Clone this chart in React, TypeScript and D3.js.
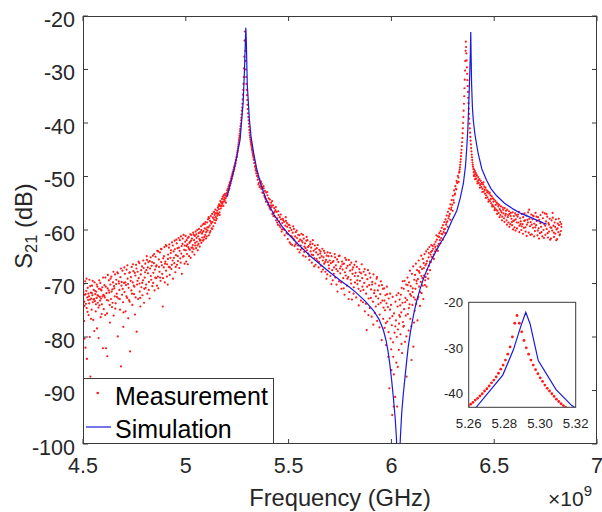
import React from 'react';
import * as d3 from 'd3';

// ---------- axis ticks ----------
const xTicks = [4.5, 5, 5.5, 6, 6.5, 7];
const xTickLabels = ['4.5', '5', '5.5', '6', '6.5', '7'];
const yTicks = [-100, -90, -80, -70, -60, -50, -40, -30, -20];
const insetXTicks = [5.26, 5.28, 5.3, 5.32];
const insetXTickLabels = ['5.26', '5.28', '5.30', '5.32'];
const insetYTicks = [-40, -30, -20];

// ---------- measurement [GHz, dB] ----------
const measLow: number[][] = [
[4.501,-72.9],[4.503,-70.1],[4.505,-77.0],[4.506,-73.4],[4.508,-80.3],[4.509,-72.1],[4.511,-69.6],[4.512,-82.0],[4.514,-73.8],[4.516,-71.4],[4.518,-74.6],[4.519,-84.1],[4.521,-72.6],[4.523,-70.8],[4.525,-73.1],[4.527,-75.9],[4.529,-72.4],[4.531,-69.3],[4.533,-80.0],[4.534,-73.0],[4.536,-87.4],[4.538,-71.7],[4.540,-72.8],[4.542,-74.9],[4.544,-70.4],[4.546,-72.2],[4.548,-73.5],[4.550,-76.8],[4.552,-71.2],[4.554,-72.9],[4.556,-69.8],[4.558,-73.3],[4.560,-72.0],[4.562,-75.2],[4.564,-71.5],[4.566,-72.7],[4.568,-78.4],[4.570,-70.6],[4.572,-73.6],[4.574,-72.3],[4.576,-80.2],[4.578,-71.0],[4.580,-74.1],[4.582,-72.5],[4.584,-69.9],[4.586,-76.3],[4.588,-72.8],[4.590,-71.3],[4.592,-73.9],[4.594,-70.7],[4.597,-82.1],[4.599,-72.1],
[4.601,-74.8],[4.604,-70.3],[4.606,-72.6],[4.609,-68.9],[4.612,-82.1],[4.614,-71.8],[4.617,-75.6],[4.618,-83.6],[4.620,-70.9],[4.623,-73.2],[4.626,-69.4],[4.628,-71.7],[4.631,-77.3],[4.633,-70.2],[4.636,-72.9],[4.638,-68.7],[4.641,-74.4],[4.643,-71.1],[4.646,-69.8],[4.649,-76.0],[4.651,-70.5],[4.654,-72.4],[4.656,-68.3],[4.659,-73.7],[4.661,-70.1],[4.664,-71.9],[4.667,-67.9],[4.669,-79.9],[4.672,-72.8],[4.674,-69.6],[4.677,-71.2],[4.680,-74.9],[4.682,-68.8],[4.685,-85.5],[4.687,-70.4],[4.690,-72.1],[4.692,-67.6],[4.695,-73.5],[4.696,-78.1],[4.699,-69.9],[4.702,-71.6],[4.704,-68.2],[4.707,-75.2],[4.709,-70.3],[4.712,-67.4],[4.715,-72.7],[4.717,-69.1],[4.720,-76.5],[4.722,-70.8],[4.725,-68.0],[4.727,-73.4],[4.729,-82.7],[4.732,-69.5],[4.735,-71.3],[4.737,-66.9],[4.740,-74.0],[4.742,-69.8],[4.745,-67.7],[4.748,-72.0],[4.750,-70.6],[4.753,-75.8],[4.755,-68.5],[4.758,-66.5],[4.761,-79.0],[4.763,-70.2],[4.766,-67.8],[4.768,-72.9],[4.771,-69.0],[4.774,-66.2],[4.776,-71.5],[4.779,-74.3],[4.781,-68.3],[4.784,-70.7],[4.787,-66.8],[4.789,-72.2],[4.792,-69.4],[4.795,-67.1],[4.797,-73.6],
[4.800,-68.9],[4.803,-66.3],[4.805,-70.8],[4.808,-67.5],[4.811,-65.6],[4.813,-71.9],[4.816,-68.1],[4.818,-66.0],[4.821,-69.7],[4.824,-72.8],[4.826,-67.2],[4.829,-65.1],[4.832,-69.3],[4.834,-66.7],[4.837,-70.5],[4.840,-64.8],[4.842,-68.0],[4.845,-66.2],[4.848,-71.3],[4.850,-67.4],[4.853,-65.0],[4.856,-69.0],[4.858,-66.6],[4.861,-63.9],[4.864,-68.7],[4.866,-70.9],[4.869,-65.5],[4.872,-67.8],[4.874,-64.2],[4.877,-69.5],[4.880,-66.0],[4.882,-63.6],[4.885,-68.2],[4.888,-74.3],[4.890,-65.3],[4.893,-67.0],[4.896,-63.2],[4.898,-69.8],[4.901,-65.9],[4.904,-67.6],[4.906,-63.0],[4.909,-66.4],[4.912,-70.2],[4.914,-64.6],[4.917,-66.9],[4.920,-62.7],[4.922,-68.4],[4.925,-65.2],[4.928,-63.8],[4.930,-67.3],[4.933,-62.3],[4.936,-65.7],[4.938,-69.1],[4.941,-64.0],[4.944,-66.2],[4.946,-62.0],[4.949,-67.9],[4.952,-64.7],[4.954,-61.8],[4.957,-66.5],[4.960,-63.4],[4.962,-65.8],[4.965,-61.5],[4.968,-67.1],[4.970,-63.9],[4.973,-65.3],[4.976,-61.2],[4.978,-64.4],[4.981,-68.2],[4.984,-62.6],[4.986,-65.0],[4.989,-60.9],[4.992,-63.7],[4.994,-66.3],[4.997,-62.2],
[5.000,-63.8],[5.002,-65.9],[5.004,-61.9],[5.006,-64.5],[5.008,-62.7],[5.010,-66.4],[5.012,-63.2],[5.014,-61.3],[5.016,-64.9],[5.018,-62.4],[5.020,-63.7],[5.022,-60.8],[5.024,-65.2],[5.026,-62.0],[5.028,-63.3],[5.030,-61.6],[5.032,-64.1],[5.034,-62.8],[5.036,-60.5],[5.038,-63.6],[5.040,-61.9],[5.042,-64.6],[5.044,-61.1],[5.046,-62.9],[5.048,-60.3],
[5.050,-63.4],[5.052,-61.5],[5.054,-62.2],[5.056,-60.0],[5.058,-63.8],[5.060,-61.2],[5.062,-62.6],[5.064,-59.8],[5.066,-61.7],[5.068,-63.1],[5.070,-60.4],[5.072,-61.9],[5.074,-59.3],[5.076,-62.4],[5.078,-60.7],[5.080,-61.4],[5.082,-59.0],[5.084,-62.0],[5.086,-60.2],[5.088,-58.8],[5.090,-61.3],[5.092,-59.7],[5.094,-60.9],[5.096,-58.5],[5.098,-61.6],
[5.100,-59.9],[5.102,-61.2],[5.104,-58.6],[5.106,-60.1],[5.108,-58.0],[5.110,-59.5],[5.112,-61.0],[5.114,-57.8],[5.116,-59.2],[5.118,-58.3],[5.120,-60.2],[5.122,-57.4],[5.124,-58.8],[5.126,-59.7],[5.128,-57.0],[5.130,-58.5],[5.132,-57.7],[5.134,-59.3],[5.136,-56.6],[5.138,-58.1],[5.140,-57.2],[5.142,-58.7],[5.144,-56.2],[5.146,-57.6],[5.148,-56.9],
[5.150,-57.9],[5.152,-56.4],[5.154,-57.3],[5.156,-55.8],[5.158,-57.0],[5.160,-56.1],[5.162,-55.2],[5.164,-56.7],[5.166,-55.5],[5.168,-54.6],[5.170,-56.0],[5.172,-54.9],[5.174,-55.6],[5.176,-54.2],[5.178,-55.1],[5.180,-53.8],[5.182,-54.7],[5.184,-53.5],[5.186,-54.3],[5.188,-54.0],[5.190,-54.6],[5.192,-53.6],[5.194,-54.1],[5.196,-53.2],[5.198,-53.7],
[4.502,-71.6],[4.507,-74.2],[4.513,-72.0],[4.517,-69.1],[4.522,-75.3],[4.526,-71.9],[4.530,-73.7],[4.535,-70.5],[4.539,-76.6],[4.543,-71.8],[4.547,-69.5],[4.551,-73.0],[4.555,-78.9],[4.559,-71.4],[4.563,-73.9],[4.567,-70.2],[4.571,-72.2],[4.575,-74.5],[4.579,-69.4],[4.583,-73.2],[4.587,-71.1],[4.591,-75.7],[4.595,-72.4],[4.598,-68.9],
[4.603,-72.3],[4.608,-75.9],[4.611,-70.6],[4.616,-73.1],[4.621,-68.4],[4.625,-71.3],[4.630,-74.0],[4.634,-69.1],[4.639,-71.5],[4.644,-73.6],[4.648,-67.8],[4.652,-70.9],[4.657,-74.7],[4.662,-69.3],[4.665,-72.5],[4.670,-68.1],[4.675,-70.0],[4.679,-72.9],[4.684,-67.2],[4.688,-69.7],[4.693,-71.0],[4.697,-75.4],[4.701,-67.0],[4.706,-69.8],[4.711,-72.4],[4.716,-66.6],[4.719,-70.1],[4.724,-73.1],[4.728,-67.9],[4.733,-68.8],[4.738,-71.9],[4.743,-66.4],[4.747,-70.4],[4.752,-68.0],[4.756,-72.6],[4.760,-67.2],[4.765,-69.5],[4.770,-65.9],[4.775,-70.0],[4.778,-72.7],[4.783,-67.5],[4.788,-69.9],[4.793,-65.7],[4.798,-71.0],
[4.802,-67.9],[4.807,-70.2],[4.810,-64.9],[4.815,-67.0],[4.820,-71.2],[4.825,-65.8],[4.830,-68.6],[4.836,-66.0],[4.841,-69.9],[4.846,-64.5],[4.851,-68.9],[4.855,-66.8],[4.860,-70.4],[4.865,-64.0],[4.870,-66.9],[4.875,-68.9],[4.879,-63.5],[4.884,-66.6],[4.889,-69.0],[4.894,-64.9],[4.899,-66.3],[4.903,-62.8],[4.908,-68.7],[4.913,-65.4],[4.918,-63.3],[4.923,-67.0],[4.927,-64.3],[4.932,-66.5],[4.937,-62.9],[4.942,-65.2],[4.947,-63.6],[4.951,-66.9],[4.956,-62.5],[4.961,-64.9],[4.966,-63.3],[4.971,-61.9],[4.975,-66.1],[4.980,-63.0],[4.985,-61.6],[4.990,-64.9],[4.995,-62.9],[4.999,-61.1],
[5.003,-63.0],[5.009,-61.5],[5.015,-63.5],[5.021,-62.2],[5.027,-60.9],[5.033,-63.3],[5.039,-60.9],[5.045,-62.4],[5.051,-60.8],[5.057,-62.9],[5.063,-60.6],[5.069,-62.0],[5.075,-60.0],[5.081,-60.4],[5.087,-61.8],[5.093,-58.9],[5.099,-60.4],[5.105,-59.5],[5.111,-57.6],[5.117,-60.5],[5.123,-58.5],[5.129,-59.8],[5.135,-57.7],[5.141,-56.8],[5.147,-58.2],[5.153,-56.9],[5.159,-55.5],[5.165,-57.2],[5.171,-55.4],[5.177,-54.8],[5.183,-55.5],[5.189,-53.3],[5.195,-54.9]
];

const measPeak1: number[][] = [
[5.200,-53.1],[5.2015,-52.6],[5.203,-53.4],[5.2045,-52.3],[5.206,-52.9],[5.2075,-51.9],[5.209,-52.5],[5.2105,-51.6],[5.212,-52.2],[5.2135,-51.2],[5.215,-51.7],[5.2165,-50.9],[5.218,-51.3],[5.2195,-50.4],[5.221,-50.8],[5.2225,-50.0],[5.224,-50.4],[5.2255,-49.6],[5.227,-49.9],[5.2285,-49.2],[5.230,-49.5],[5.2315,-48.8],[5.233,-49.0],[5.2345,-48.3],[5.236,-48.6],[5.2375,-47.9],[5.239,-48.1],[5.2405,-47.4],[5.242,-47.6],[5.2435,-46.9],[5.245,-47.0],[5.2465,-46.4],[5.248,-46.3],[5.2494,-45.9],[5.2507,-45.5],[5.252,-45.2],[5.2533,-44.8],[5.2546,-44.4],[5.2559,-44.0],[5.2572,-43.6],[5.2585,-43.2],
[5.2598,-42.8],[5.2611,-42.4],[5.2624,-42.0],[5.2637,-41.5],[5.2650,-41.1],[5.2663,-40.6],[5.2676,-40.1],[5.2689,-39.5],[5.2702,-39.0],[5.2715,-38.4],[5.2728,-37.7],[5.2741,-37.1],[5.2754,-36.4],[5.2767,-35.6],[5.2780,-34.7],[5.2793,-33.8],[5.2806,-32.7],[5.2819,-31.4],[5.2832,-29.8],[5.2845,-27.6],[5.2858,-24.6],[5.2871,-22.9],[5.2884,-24.6],[5.2897,-26.5],[5.2910,-28.4],[5.2923,-30.0],[5.2936,-31.4],[5.2949,-32.7],[5.2962,-33.8],[5.2975,-34.8],[5.2988,-35.7],[5.3001,-36.6],[5.3014,-37.4],[5.3027,-38.2],[5.3040,-38.9],[5.3053,-39.5],[5.3066,-40.1],[5.3079,-40.7],[5.3092,-41.3],[5.3105,-41.8],[5.3118,-42.3],[5.3131,-42.7],[5.3144,-43.1],
[5.3157,-43.4],[5.3170,-43.7],[5.3183,-44.0],[5.3196,-44.3],[5.3209,-44.6],[5.3222,-44.9],[5.3235,-45.2],[5.3248,-45.5],[5.3261,-45.8],[5.3274,-46.1],[5.329,-46.4],[5.3305,-46.8],[5.332,-46.9],[5.3335,-47.5],[5.335,-47.4],[5.3365,-48.2],[5.338,-48.0],[5.3395,-48.8],[5.341,-48.5],[5.3425,-49.4],[5.344,-49.0],[5.346,-49.9],[5.348,-49.4],[5.350,-50.6]
];

const measMid: number[][] = [
[5.352,-50.1],[5.355,-51.2],[5.358,-50.5],[5.361,-51.8],[5.364,-50.9],[5.367,-52.3],[5.370,-51.4],[5.373,-52.0],[5.376,-53.1],[5.379,-52.2],[5.382,-53.6],[5.385,-52.7],[5.388,-54.2],[5.391,-53.0],[5.394,-54.6],[5.397,-53.5],[5.400,-55.3],[5.403,-54.1],[5.406,-55.6],[5.409,-54.3],[5.412,-56.2],[5.415,-54.9],[5.418,-55.7],[5.421,-57.0],[5.424,-55.4],[5.427,-56.8],[5.430,-55.9],[5.433,-57.5],[5.436,-56.3],[5.439,-58.2],[5.442,-56.6],[5.445,-57.8],[5.448,-59.0],[5.451,-57.2],[5.454,-58.4],[5.457,-57.6],[5.460,-59.5],[5.463,-58.0],[5.466,-60.3],[5.469,-58.7],[5.472,-57.9],[5.475,-59.8],[5.478,-58.5],[5.481,-61.0],[5.484,-59.2],[5.487,-58.3],[5.490,-60.6],[5.493,-59.4],[5.496,-61.7],[5.499,-59.0],[5.502,-60.2],[5.505,-62.3],[5.508,-59.6],[5.511,-61.1],[5.514,-60.0],[5.517,-62.8],[5.520,-60.5],[5.523,-61.6],[5.526,-59.8],[5.529,-63.0],[5.532,-61.2],[5.535,-60.4],[5.538,-62.4],[5.541,-61.5],[5.544,-63.6],[5.547,-60.9],[5.550,-62.1],[5.553,-64.2],[5.556,-61.8],[5.559,-62.9],[5.562,-60.7],[5.565,-63.5],[5.568,-62.3],[5.571,-64.8],[5.574,-61.6],[5.577,-63.1],[5.580,-62.5],[5.583,-65.0],[5.586,-62.0],[5.589,-63.8],[5.592,-61.9],[5.595,-64.4],[5.598,-63.0],[5.601,-65.6],[5.604,-62.7],[5.607,-64.0],[5.610,-63.3],[5.613,-66.1],[5.616,-62.6],[5.619,-64.7],[5.622,-63.9],[5.625,-65.3],[5.628,-62.9],[5.631,-66.5],[5.634,-64.2],[5.637,-63.4],[5.640,-65.8],[5.643,-64.6],[5.646,-67.0],[5.649,-63.7],[5.652,-65.2],[5.655,-64.0],[5.658,-66.7],[5.661,-64.9],[5.664,-63.5],[5.667,-67.4],[5.670,-65.1],[5.673,-66.3],[5.676,-64.3],[5.679,-67.8],[5.682,-65.6],[5.685,-64.8],[5.688,-68.3],[5.691,-66.0],[5.694,-64.9],[5.697,-67.2],[5.700,-65.7],
[5.703,-68.6],[5.706,-66.2],[5.709,-64.9],[5.712,-67.5],[5.715,-69.4],[5.718,-65.8],[5.721,-67.0],[5.724,-64.5],[5.727,-68.9],[5.730,-66.6],[5.733,-70.2],[5.736,-65.5],[5.739,-67.7],[5.742,-66.0],[5.745,-69.6],[5.748,-64.8],[5.751,-68.1],[5.754,-66.8],[5.757,-71.0],[5.760,-65.9],[5.763,-67.4],[5.766,-69.0],[5.769,-66.3],[5.772,-72.1],[5.775,-65.2],[5.778,-68.5],[5.781,-67.1],[5.784,-70.4],[5.787,-66.7],[5.790,-68.8],[5.793,-65.6],[5.796,-71.6],[5.799,-67.6],[5.802,-69.3],[5.805,-66.1],[5.808,-73.0],[5.811,-68.2],[5.814,-67.0],[5.817,-70.7],[5.820,-66.5],[5.823,-69.8],[5.826,-68.0],[5.829,-72.6],[5.832,-66.9],[5.835,-70.1],[5.838,-68.6],[5.841,-74.1],[5.844,-67.3],[5.847,-69.5],[5.850,-71.4],[5.853,-68.1],[5.856,-66.4],[5.859,-70.6],[5.862,-73.5],[5.865,-67.8],[5.868,-69.9],[5.871,-75.2],[5.874,-68.4],[5.877,-71.9],[5.880,-78.7],[5.883,-69.2],[5.886,-67.5],[5.889,-72.8],[5.892,-70.3],[5.895,-74.6],[5.898,-68.9],[5.901,-71.1],[5.904,-76.2],[5.907,-69.7],[5.910,-73.4],[5.913,-68.3],[5.916,-71.8],[5.919,-75.5],[5.922,-70.0],[5.925,-72.4],[5.928,-69.1],[5.931,-77.0],[5.934,-71.3],[5.937,-73.9],[5.940,-70.4],[5.943,-75.8],[5.946,-72.0],[5.949,-69.6],[5.953,-80.6],[5.956,-73.2],[5.959,-71.0],
[5.962,-74.5],[5.965,-70.9],[5.967,-78.3],[5.969,-75.0],[5.971,-72.2],[5.974,-81.5],[5.976,-73.7],[5.978,-70.6],[5.980,-77.1],[5.983,-74.4],[5.985,-83.7],[5.987,-72.8],[5.990,-89.6],[5.992,-76.5],[5.994,-71.9],[5.996,-80.3],[5.998,-74.0],[6.000,-86.2],[6.002,-77.8],[6.004,-94.6],[6.006,-72.5],[6.008,-81.0],[6.009,-83.7],[6.011,-93.0],[6.013,-75.6],[6.015,-79.2],[6.018,-91.2],[6.020,-73.4],[6.022,-76.9],[6.024,-84.8],[6.026,-80.0],[6.028,-93.0],[6.030,-74.3],[6.032,-78.6],[6.034,-71.8],[6.036,-82.4],[6.038,-75.9],[6.040,-73.0],[6.042,-76.2],
[6.044,-79.5],[6.046,-72.1],[6.048,-75.4],[6.050,-70.8],[6.052,-83.0],[6.054,-73.6],[6.056,-77.2],[6.058,-78.1],[6.060,-71.0],[6.062,-74.8],[6.064,-69.5],[6.066,-80.9],[6.068,-72.7],[6.070,-76.0],[6.072,-70.2],[6.074,-87.4],[6.076,-73.1],[6.078,-68.9],[6.080,-75.7],[6.082,-71.4],[6.084,-78.8],[6.086,-69.8],[6.088,-73.9],[6.090,-67.6],[6.092,-76.6],[6.094,-70.5],[6.096,-72.3],[6.098,-84.3],[6.100,-68.2],[6.102,-74.0],[6.104,-70.9],[6.106,-66.8],[6.107,-81.8],[6.109,-72.6],[6.111,-69.3],[6.113,-75.1],[6.115,-68.4],[6.117,-71.0],[6.119,-66.3],[6.121,-73.8],[6.123,-70.0],[6.125,-67.5],[6.127,-76.9],[6.129,-69.2],[6.131,-72.5],[6.133,-65.7],[6.135,-70.6],[6.137,-68.0],[6.139,-74.2],[6.141,-66.9],[6.143,-69.7],[6.145,-64.8],[6.147,-71.8],[6.149,-67.3],[6.151,-69.0],[6.153,-65.4],[6.155,-72.9],[6.157,-66.2],[6.159,-68.5],[6.161,-64.5],[6.163,-70.3],[6.165,-66.6],[6.167,-68.8],[6.169,-64.0],[6.171,-70.6],[6.173,-65.8],[6.175,-67.4],[6.177,-63.6],[6.179,-69.1],[6.181,-65.1],[6.183,-66.7],[6.185,-63.2],[6.188,-67.5],[6.190,-64.6],[6.192,-66.0],[6.194,-62.8],[6.196,-65.0],[6.198,-63.9],
[5.353,-51.5],[5.359,-52.0],[5.366,-51.0],[5.372,-53.0],[5.378,-51.8],[5.384,-53.9],[5.390,-54.7],[5.396,-52.9],[5.402,-54.9],[5.408,-55.9],[5.414,-55.4],[5.420,-54.6],[5.426,-57.4],[5.432,-56.6],[5.438,-55.7],[5.444,-58.6],[5.450,-56.5],[5.456,-59.2],[5.462,-57.1],[5.468,-59.9],[5.474,-58.2],[5.480,-60.0],[5.486,-57.6],[5.492,-58.7],[5.498,-60.8],[5.504,-59.1],[5.510,-62.6],[5.516,-61.3],[5.522,-59.3],[5.528,-61.9],[5.534,-62.7],[5.540,-60.1],[5.546,-62.9],[5.552,-61.0],[5.558,-63.7],[5.564,-62.0],[5.570,-60.9],[5.576,-64.1],[5.582,-63.4],[5.588,-61.3],[5.594,-63.2],[5.600,-64.9],[5.606,-62.2],[5.612,-64.6],[5.618,-61.9],[5.624,-66.8],[5.630,-63.6],[5.636,-65.4],[5.642,-62.8],[5.648,-66.0],[5.654,-64.4],[5.660,-67.8],[5.666,-65.7],[5.672,-63.9],[5.678,-66.0],[5.684,-69.1],[5.690,-64.2],[5.696,-66.6],
[5.702,-64.3],[5.708,-70.1],[5.714,-66.0],[5.720,-68.2],[5.726,-65.1],[5.732,-67.3],[5.738,-71.5],[5.744,-64.9],[5.750,-67.2],[5.756,-69.8],[5.762,-66.4],[5.768,-70.9],[5.774,-67.9],[5.780,-65.6],[5.786,-69.1],[5.792,-72.9],[5.798,-66.5],[5.804,-70.0],[5.810,-67.4],[5.816,-71.9],[5.822,-68.6],[5.828,-65.9],[5.834,-69.4],[5.840,-71.0],[5.846,-67.9],[5.852,-73.2],[5.858,-69.0],[5.864,-71.2],[5.870,-67.3],[5.876,-73.8],[5.882,-70.6],[5.888,-75.9],[5.894,-68.1],[5.900,-72.7],[5.906,-70.2],[5.912,-77.7],[5.918,-71.3],[5.924,-74.3],[5.930,-68.8],[5.936,-72.8],[5.942,-78.2],[5.948,-73.6],[5.954,-70.3],[5.960,-76.6],
[5.966,-73.2],[5.973,-77.4],[5.979,-72.0],[5.986,-79.1],[5.993,-74.9],[5.999,-82.3],[6.005,-76.1],[6.012,-87.0],[6.019,-78.0],[6.025,-72.2],[6.031,-85.6],[6.037,-77.5],[6.043,-74.1],[6.049,-81.3],[6.055,-69.6],[6.061,-77.9],[6.067,-73.5],[6.073,-79.9],[6.079,-70.3],[6.085,-74.6],[6.091,-72.0],[6.097,-78.0],[6.103,-71.6],[6.110,-77.3],[6.116,-73.0],[6.122,-69.5],[6.128,-72.9],[6.134,-67.7],[6.140,-71.6],[6.146,-68.6],[6.152,-70.4],[6.158,-67.1],[6.164,-69.4],[6.170,-66.3],[6.176,-68.2],[6.182,-64.3],[6.187,-65.9],[6.193,-64.1]
];

const measPeak2: number[][] = [
[6.200,-65.1],[6.203,-63.5],[6.206,-64.6],[6.209,-62.7],[6.212,-64.0],[6.215,-62.2],[6.218,-63.6],[6.221,-61.8],[6.224,-63.0],[6.227,-61.2],[6.230,-62.6],[6.233,-60.6],[6.236,-61.9],[6.239,-60.2],[6.242,-61.5],[6.245,-59.6],[6.248,-60.8],[6.251,-59.1],[6.254,-60.4],[6.257,-58.5],[6.260,-59.8],[6.263,-58.0],[6.266,-59.0],[6.269,-57.3],[6.272,-58.4],[6.275,-56.6],[6.278,-57.8],[6.281,-56.0],[6.284,-57.0],[6.287,-55.2],[6.290,-56.2],[6.293,-54.4],[6.296,-55.3],[6.299,-53.6],[6.302,-54.4],[6.305,-52.6],[6.308,-53.4],[6.311,-51.8],[6.314,-52.3],[6.317,-50.8],[6.320,-51.2],[6.323,-49.9],[6.326,-50.2],[6.3295,-49.3],
[6.201,-63.0],[6.207,-65.4],[6.213,-63.2],[6.219,-61.0],[6.226,-63.9],[6.232,-61.3],[6.238,-62.5],[6.244,-60.7],[6.250,-61.8],[6.256,-59.9],[6.262,-60.6],[6.268,-58.6],[6.274,-59.4],[6.280,-57.4],[6.286,-58.1],[6.292,-55.8],[6.298,-56.4],[6.304,-54.9],[6.310,-53.2],[6.316,-52.4],[6.322,-51.1],[6.327,-51.0],
[6.3308,-49.1],[6.3321,-48.7],[6.3334,-48.3],[6.3347,-47.8],[6.3360,-47.3],[6.3373,-46.8],[6.3386,-46.2],[6.3399,-45.6],[6.3412,-45.0],[6.3425,-44.3],[6.3438,-43.6],[6.3451,-42.8],[6.3464,-41.9],[6.3477,-41.0],[6.3490,-40.0],[6.3503,-38.9],[6.3516,-37.7],[6.3529,-36.4],[6.3542,-35.0],[6.3555,-33.5],[6.3568,-31.9],[6.3581,-30.2],[6.3594,-28.4],[6.3607,-26.5],[6.3620,-24.8],
[6.3633,-25.8],[6.3646,-27.0],[6.3659,-28.3],[6.3672,-29.6],[6.3685,-30.8],[6.3698,-32.0],[6.3711,-33.1],[6.3724,-34.2],[6.3737,-35.3],[6.3750,-36.3],[6.3763,-37.3],[6.3776,-38.3],[6.3789,-39.2],[6.3802,-40.1],[6.3815,-41.0],[6.3828,-41.8],[6.3841,-42.6],[6.3854,-43.3],[6.3867,-44.0],[6.3880,-44.7],[6.3893,-45.3],[6.3906,-45.9],[6.3919,-46.4],[6.3932,-46.9],[6.3945,-47.4],[6.3958,-47.8],[6.3971,-48.2],[6.3984,-48.6]
];

const measHigh: number[][] = [
[6.400,-49.2],[6.402,-48.7],[6.404,-49.6],[6.406,-49.0],[6.408,-50.0],[6.410,-49.3],[6.413,-50.4],[6.416,-49.8],[6.419,-50.9],[6.422,-50.1],[6.425,-51.2],[6.428,-50.5],[6.431,-51.6],[6.434,-50.8],[6.437,-52.0],[6.440,-51.2],[6.443,-52.3],[6.446,-51.5],[6.449,-52.8],[6.452,-51.9],[6.455,-53.2],[6.458,-52.1],[6.461,-53.5],[6.464,-52.6],[6.467,-53.9],[6.470,-52.8],[6.473,-54.3],[6.476,-53.2],[6.479,-54.6],[6.482,-53.5],[6.485,-55.0],[6.488,-53.7],[6.491,-55.3],[6.494,-54.1],[6.497,-55.6],[6.500,-54.3],[6.503,-55.9],[6.506,-54.6],[6.509,-56.2],[6.512,-54.9],[6.515,-56.4],[6.518,-55.1],[6.521,-56.8],[6.524,-55.3],[6.527,-56.1],[6.530,-57.2],[6.533,-55.6],[6.536,-56.7],[6.539,-57.5],[6.542,-55.8],[6.545,-56.9],[6.548,-57.8],[6.551,-55.9],[6.554,-57.3],[6.557,-56.4],[6.560,-58.2],[6.563,-56.2],[6.566,-57.6],[6.569,-58.6],[6.572,-56.5],[6.575,-57.0],[6.578,-58.9],[6.581,-56.8],[6.584,-57.9],[6.587,-59.1],[6.590,-56.7],[6.593,-58.3],[6.596,-57.4],[6.599,-59.5],[6.602,-56.9],[6.605,-58.0],[6.608,-57.2],[6.611,-59.7],[6.614,-57.5],[6.617,-58.6],[6.620,-56.6],[6.623,-59.2],[6.626,-57.8],[6.629,-58.4],[6.632,-60.0],[6.635,-57.0],[6.638,-58.9],[6.641,-57.6],[6.644,-59.6],[6.647,-56.9],[6.650,-58.2],[6.653,-60.3],[6.656,-57.3],[6.659,-59.0],[6.662,-58.1],[6.665,-56.7],[6.668,-60.5],[6.671,-57.9],[6.674,-59.3],[6.677,-58.5],[6.680,-57.1],[6.683,-60.8],[6.686,-58.0],[6.689,-59.6],[6.692,-57.4],[6.695,-58.8],[6.698,-60.2],[6.701,-56.8],[6.704,-59.1],[6.707,-58.3],[6.710,-61.0],[6.713,-57.6],[6.716,-59.7],[6.719,-58.1],[6.722,-60.6],[6.725,-57.2],[6.728,-59.4],[6.731,-58.6],[6.734,-61.2],[6.737,-57.8],[6.740,-60.0],[6.743,-58.9],[6.746,-56.9],[6.749,-60.9],[6.752,-58.4],[6.755,-59.8],[6.758,-57.5],[6.761,-61.4],[6.764,-58.7],[6.767,-60.3],[6.770,-57.9],[6.773,-59.5],[6.776,-61.6],[6.779,-58.2],[6.782,-60.1],[6.785,-57.7],[6.788,-59.2],[6.791,-61.3],[6.794,-58.6],[6.797,-60.7],[6.800,-58.0],[6.803,-59.9],[6.806,-61.7],[6.809,-58.8],[6.812,-60.4],[6.815,-59.1],[6.818,-61.0],[6.821,-58.5],[6.824,-60.2],[6.827,-59.4],
[6.401,-49.9],[6.407,-50.5],[6.412,-49.6],[6.418,-51.3],[6.424,-50.7],[6.430,-52.1],[6.436,-51.4],[6.442,-52.9],[6.448,-51.1],[6.454,-52.5],[6.460,-54.0],[6.466,-53.0],[6.472,-54.7],[6.478,-53.0],[6.484,-54.2],[6.490,-55.6],[6.496,-54.7],[6.502,-56.3],[6.508,-55.3],[6.514,-57.0],[6.520,-55.6],[6.526,-57.6],[6.532,-56.4],[6.538,-58.2],[6.544,-56.2],[6.550,-58.5],[6.556,-57.0],[6.562,-59.0],[6.568,-57.2],[6.574,-59.4],[6.580,-57.4],[6.586,-58.5],[6.592,-59.9],[6.598,-58.2],[6.604,-60.1],[6.610,-58.6],[6.616,-57.1],[6.622,-60.4],[6.628,-58.9],[6.634,-59.3],[6.640,-60.7],[6.646,-58.3],[6.652,-59.5],[6.658,-61.1],[6.664,-58.6],[6.670,-56.2],[6.676,-60.9],[6.682,-59.0],[6.688,-57.3],[6.694,-61.2],[6.700,-59.5],[6.706,-57.5],[6.712,-60.1],[6.718,-61.6],[6.724,-58.7],[6.730,-60.4],[6.736,-56.7],[6.742,-61.5],[6.748,-59.2],[6.754,-57.0],[6.760,-60.6],[6.766,-59.0],[6.772,-61.8],[6.778,-59.6],[6.784,-56.8],[6.790,-60.5],[6.796,-59.4],[6.802,-61.9],[6.808,-59.7],[6.814,-57.9],[6.820,-60.8],[6.826,-58.9]
];

// ---------- simulation [GHz, dB] ----------
const simulation: number[][] = [
[5.200,-53.8],[5.215,-51.6],[5.230,-49.4],[5.245,-46.8],[5.2642,-43.1],[5.2791,-36.0],[5.285,-30.5],[5.2897,-24.7],[5.292,-22.2],[5.2944,-24.7],[5.299,-32.8],[5.309,-39.2],[5.3178,-42.7],[5.330,-45.6],[5.345,-48.6],[5.365,-51.5],[5.393,-54.5],[5.430,-57.2],[5.470,-59.4],[5.507,-61.1],[5.550,-62.8],[5.604,-64.8],[5.650,-66.3],[5.700,-67.9],[5.750,-69.4],[5.800,-70.8],[5.831,-71.8],[5.870,-73.2],[5.912,-75.0],[5.940,-76.7],[5.961,-78.7],[5.975,-80.8],[5.985,-83.0],[5.993,-85.3],[6.001,-88.0],[6.010,-91.5],[6.018,-95.0],[6.024,-98.5],[6.029,-103],[6.034,-115],[6.039,-103],[6.044,-98.5],[6.050,-94.3],[6.058,-90.6],[6.066,-87.6],[6.074,-84.6],[6.082,-81.8],[6.094,-78.7],[6.107,-76.0],[6.122,-73.4],[6.139,-71.1],[6.155,-69.2],[6.172,-67.5],[6.188,-66.1],[6.204,-64.9],[6.235,-62.7],[6.269,-60.5],[6.295,-58.2],[6.318,-56.4],[6.335,-54.0],[6.350,-51.3],[6.360,-48.2],[6.366,-45.0],[6.372,-41.0],[6.377,-35.7],[6.381,-31.0],[6.384,-27.0],[6.386,-23.0],[6.388,-28.0],[6.390,-32.6],[6.394,-37.0],[6.398,-39.4],[6.407,-42.3],[6.422,-45.7],[6.440,-48.6],[6.463,-50.7],[6.485,-52.3],[6.512,-53.6],[6.550,-55.0],[6.593,-56.1],[6.630,-56.9],[6.674,-57.6],[6.710,-58.2],[6.739,-58.7],[6.755,-58.9]
];

const measurement = [...measLow, ...measPeak1, ...measMid, ...measPeak2, ...measHigh];

const FONT = "'Liberation Sans', Arial, Helvetica, sans-serif";
const AXIS = '#3a3a3a';
const RED = '#ff1a1a';
const BLUE = '#1a1adf';

export default function App() {
  const W = 602, H = 512;
  const L = 83, R = 597, T = 16, B = 444;
  const x = d3.scaleLinear().domain([4.5, 7]).range([L, R]);
  const y = d3.scaleLinear().domain([-100, -20]).range([B, T]);
  const line = d3.line<number[]>().x(d => x(d[0])).y(d => y(d[1]));

  const iL = 468.7, iR = 575.7, iT = 302.3, iB = 407.3;
  const ix = d3.scaleLinear().domain([5.26, 5.32]).range([iL, iR]);
  const iy = d3.scaleLinear().domain([-43.08, -20]).range([iB, iT]);
  const iline = d3.line<number[]>().x(d => ix(d[0])).y(d => iy(d[1]));
  const tk = 5;

  return (
    <svg width={W} height={H} style={{ position: 'absolute', left: 0, top: 0, background: '#fff' }} fontFamily={FONT}>
      <defs>
        <clipPath id="mainClip"><rect x={L} y={T} width={R - L} height={B - T} /></clipPath>
        <clipPath id="insetClip"><rect x={iL} y={iT} width={iR - iL} height={iB - iT} /></clipPath>
      </defs>
      <rect x={0} y={0} width={W} height={H} fill="#fff" />

      <g clipPath="url(#mainClip)">
        {measurement.map((d, i) => (
          <circle key={i} cx={x(d[0])} cy={y(d[1])} r={1.1} fill={RED} />
        ))}
        <path d={line(simulation) || ''} fill="none" stroke={BLUE} strokeWidth={1.2} />
      </g>

      <rect x={L + 0.5} y={T + 0.5} width={R - L - 1} height={B - T - 1} fill="none" stroke={AXIS} strokeWidth={1} />
      {xTicks.map((t, i) => (
        <g key={'xt' + i}>
          <line x1={x(t)} x2={x(t)} y1={B} y2={B - tk} stroke={AXIS} />
          <line x1={x(t)} x2={x(t)} y1={T} y2={T + tk} stroke={AXIS} />
          <text x={x(t)} y={473} fontSize={21.5} textAnchor="middle" fill="#262626">{xTickLabels[i]}</text>
        </g>
      ))}
      {yTicks.map((t, i) => (
        <g key={'yt' + i}>
          <line x1={L} x2={L + tk} y1={y(t)} y2={y(t)} stroke={AXIS} />
          <line x1={R} x2={R - tk} y1={y(t)} y2={y(t)} stroke={AXIS} />
          <text x={75} y={y(t) + 10.5} fontSize={21.5} textAnchor="end" fill="#262626">{t}</text>
        </g>
      ))}

      <text x={(L + R) / 2} y={506} fontSize={23.7} textAnchor="middle" fill="#262626">Frequency (GHz)</text>
      <text transform="translate(32,226) rotate(-90)" fontSize={23.7} textAnchor="middle" fill="#262626">
        S<tspan dy={5} fontSize={16.5}>21</tspan><tspan dy={-5}> (dB)</tspan>
      </text>
      <text x={548} y={506} fontSize={21} fill="#262626">
        ×10<tspan dy={-10} fontSize={15}>9</tspan>
      </text>

      <rect x={L + 0.5} y={378.5} width={190} height={B - 378.5 - 0.5} fill="#fff" stroke={AXIS} strokeWidth={1} />
      <circle cx={97.7} cy={393} r={1.3} fill={RED} />
      <text x={115} y={405} fontSize={25} fill="#000">Measurement</text>
      <line x1={86} x2={111} y1={427} y2={427} stroke={BLUE} strokeWidth={1.2} />
      <text x={115} y={438} fontSize={25} fill="#000">Simulation</text>

      <rect x={iL} y={iT} width={iR - iL} height={iB - iT} fill="#fff" />
      <g clipPath="url(#insetClip)">
        {measurement.filter(d => d[0] >= 5.255 && d[0] <= 5.325).map((d, i) => (
          <circle key={'i' + i} cx={ix(d[0])} cy={iy(d[1])} r={1.4} fill={RED} />
        ))}
        <path d={iline(simulation) || ''} fill="none" stroke={BLUE} strokeWidth={1.2} />
      </g>
      <rect x={iL} y={iT} width={iR - iL} height={iB - iT} fill="none" stroke={AXIS} strokeWidth={1} />
      {insetXTicks.map((t, i) => (
        <text key={'ixt' + i} x={ix(t)} y={428} fontSize={13.2} textAnchor="middle" fill="#262626">{insetXTickLabels[i]}</text>
      ))}
      {insetYTicks.map((t, i) => (
        <text key={'iyt' + i} x={463} y={iy(t) + 5} fontSize={13.2} textAnchor="end" fill="#262626">{t}</text>
      ))}
    </svg>
  );
}
